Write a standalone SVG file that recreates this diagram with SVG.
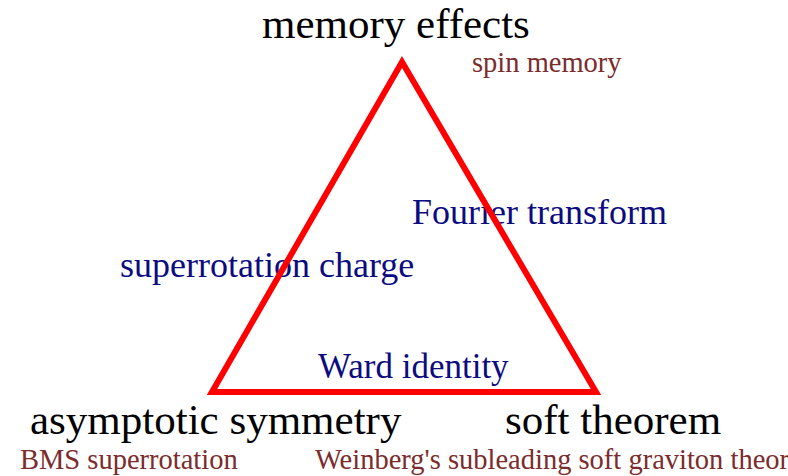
<svg xmlns="http://www.w3.org/2000/svg" width="788" height="476" viewBox="0 0 788 476">
<style>
text{font-family:"Liberation Serif","Times New Roman",serif}
.main{font-size:43px;fill:#000}
.sub{font-size:28.5px;fill:#7b2c2c}
.lab{font-size:36px;fill:#0c0c80}
.tri{fill:none;stroke:#ff0000;stroke-width:6;stroke-linejoin:miter;stroke-miterlimit:10}
</style>
<rect width="788" height="476" fill="#fff"/>
<g id="labels">
<text class="lab" x="412" y="224">Fourier transform</text>
<text class="lab" x="120" y="277">superrotation charge</text>
<text class="lab" x="318" y="378" style="font-size:35px">Ward identity</text>
</g>
<g id="node-memory">
<text class="main" x="262" y="38">memory effects</text>
<text class="sub" x="472" y="72">spin memory</text>
</g>
<g id="node-asymptotic">
<text class="main" x="30" y="434">asymptotic symmetry</text>
<text class="sub" x="20" y="469">BMS superrotation</text>
</g>
<g id="node-soft">
<text class="main" x="505" y="434">soft theorem</text>
<text class="sub" x="315" y="469">Weinberg's subleading soft graviton theor</text>
</g>
<g id="connectors">
<polygon class="tri" points="402,62 212,392 596,392"/>
</g>
</svg>
